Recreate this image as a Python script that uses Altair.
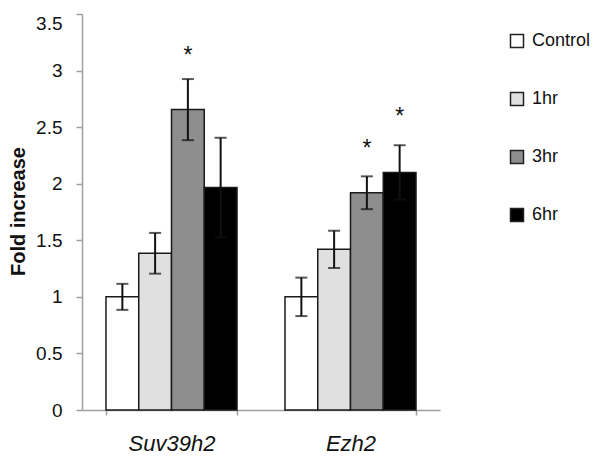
import altair as alt
import pandas as pd

genes = ["Suv39h2", "Ezh2"]
times = ["Control", "1hr", "3hr", "6hr"]
suv_means = [1.00, 1.385, 2.655, 1.966]
suv_err = [0.115, 0.18, 0.27, 0.44]
ezh_means = [1.00, 1.42, 1.92, 2.10]
ezh_err = [0.17, 0.165, 0.145, 0.24]
suv_star = [None, None, 3.17, None]
ezh_star = [None, None, 2.35, 2.63]
colors = ["#ffffff", "#e0e0e0", "#8e8e8e", "#000000"]
y_ticks = [0, 0.5, 1, 1.5, 2, 2.5, 3, 3.5]

rows = []
for g, ms, es, ss in [(genes[0], suv_means, suv_err, suv_star), (genes[1], ezh_means, ezh_err, ezh_star)]:
    for t, m, e, s in zip(times, ms, es, ss):
        rows.append({"gene": g, "time": t, "mean": m, "lo": m - e, "hi": m + e, "star": s})
df = pd.DataFrame(rows)

FONT = "Liberation Sans"

x = alt.X("gene:N", sort=genes, title=None,
          scale=alt.Scale(paddingInner=0.268, paddingOuter=0.134),
          axis=alt.Axis(labelAngle=0, labelFontSize=22, labelFontStyle="italic", labelColor="#111",
                        labelFont=FONT, tickBand="extent", tickSize=5, tickColor="#a0a0a0",
                        domainColor="#a0a0a0", domainWidth=1.5, tickWidth=1.5, labelPadding=18))
xo = alt.XOffset("time:N", sort=times, scale=alt.Scale(paddingInner=0, paddingOuter=0))

bars = alt.Chart(df).mark_bar(stroke="#1a1a1a", strokeWidth=1.5).encode(
    x=x, xOffset=xo,
    y=alt.Y("mean:Q", title="Fold increase",
            scale=alt.Scale(domain=[0, 3.5], nice=False),
            axis=alt.Axis(values=y_ticks, format=".1~f", grid=False, labelFontSize=19, labelFont=FONT,
                          labelColor="#111", tickSize=6, tickColor="#a0a0a0", domainColor="#a0a0a0",
                          domainWidth=1.5, tickWidth=1.5, labelPadding=14,
                          labelBaseline={"condition": {"test": "datum.value == 3.5", "value": "top"},
                                         "value": "middle"},
                          titleFont=FONT, titleFontSize=20, titleFontWeight="bold", titleColor="#111",
                          titleAngle=-90, titleX=-58, titleY=197, titleBaseline="alphabetic")),
    color=alt.Color("time:N", sort=times, scale=alt.Scale(domain=times, range=colors),
                    legend=alt.Legend(title=None, orient="none", legendX=426, legendY=18,
                                      symbolType="square", symbolSize=169, symbolStrokeColor="#222",
                                      symbolStrokeWidth=1.5, symbolOpacity=1, labelFontSize=18, labelFont=FONT,
                                      labelColor="#111", rowPadding=38, labelOffset=6, padding=0,
                                      labelLimit=200)),
)

rules = alt.Chart(df).mark_rule(color="#111", strokeWidth=2).encode(
    x=x, xOffset=xo, y="lo:Q", y2="hi:Q")
caps_hi = alt.Chart(df).mark_tick(color="#111", thickness=2, size=12, orient="horizontal").encode(
    x=x, xOffset=xo, y="hi:Q")
caps_lo = alt.Chart(df).mark_tick(color="#111", thickness=2, size=12, orient="horizontal").encode(
    x=x, xOffset=xo, y="lo:Q")
stars = alt.Chart(df).transform_filter("datum.star != null").mark_text(
    text="*", fontSize=23, font=FONT, color="#111", baseline="middle", dy=5).encode(
    x=x, xOffset=xo, y="star:Q")

chart = alt.layer(bars, rules, caps_hi, caps_lo, stars).properties(
    width=358, height=396,
    autosize=alt.AutoSizeParams(type="none"),
    padding={"left": 74, "top": 6, "right": 153, "bottom": 44},
).configure_view(stroke=None)

chart.save("out.html", embed_options={"renderer": "svg", "actions": False})
